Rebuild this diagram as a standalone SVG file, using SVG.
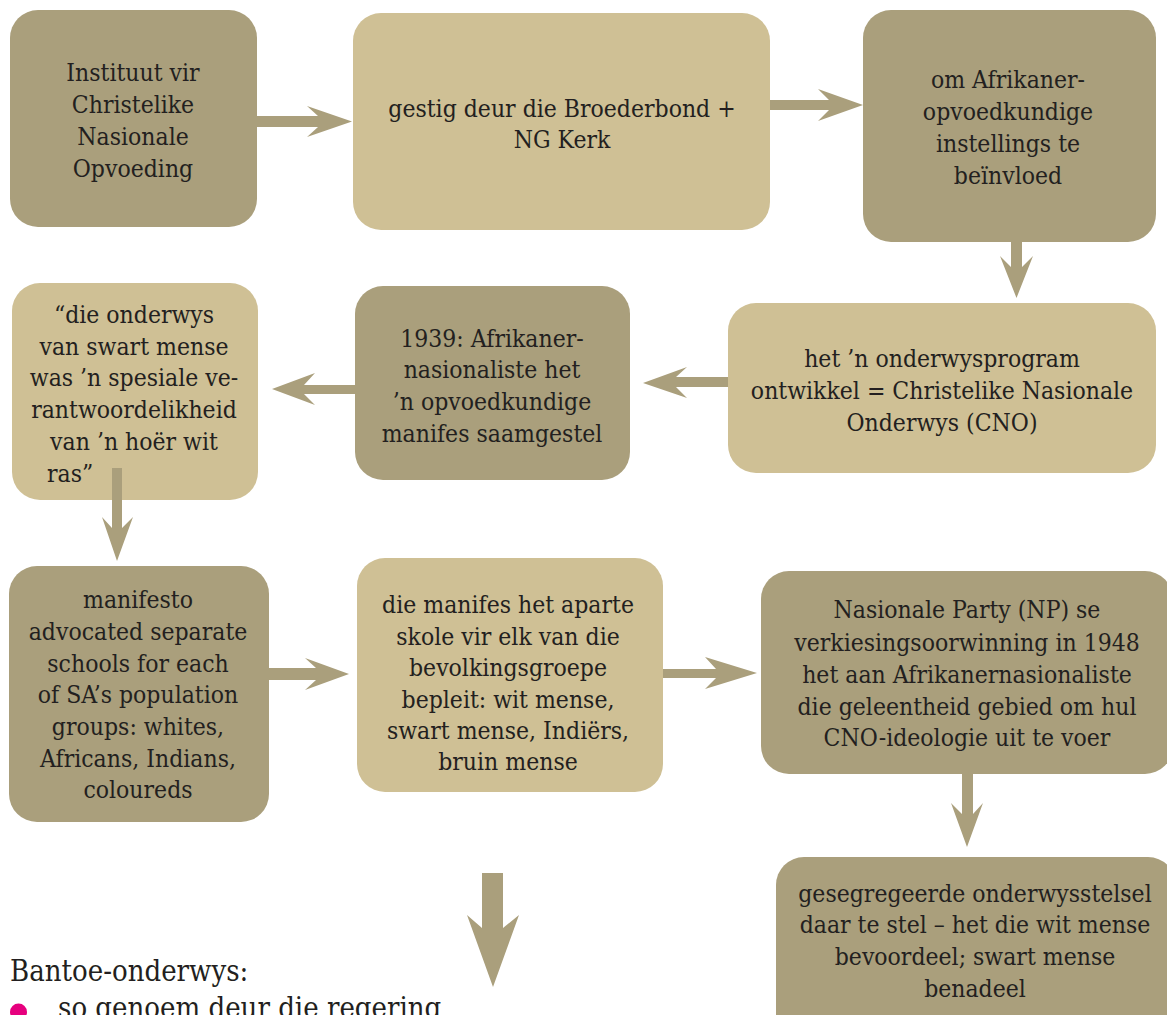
<svg xmlns="http://www.w3.org/2000/svg" width="1167" height="1015" viewBox="0 0 1167 1015">
<style>
.dk{fill:#aa9f7c}
.lt{fill:#cfc095}
.t{font-family:"DejaVu Serif Condensed","DejaVu Serif",serif;font-size:24.5px;fill:#231f20;text-anchor:middle}
.b{font-family:"DejaVu Serif Condensed","DejaVu Serif",serif;font-size:29px;fill:#231f20}
.ar{fill:#aa9f7c}
</style>
<rect width="1167" height="1015" fill="#ffffff"/>
<g id="n1"><rect class="dk" x="10" y="10" width="247" height="217" rx="28"/>
<text class="t"><tspan x="133" y="81">Instituut vir</tspan><tspan x="133" y="113">Christelike</tspan><tspan x="133" y="145">Nasionale</tspan><tspan x="133" y="177">Opvoeding</tspan></text></g>
<g id="n2"><rect class="lt" x="353" y="13" width="417" height="217" rx="28"/>
<text class="t"><tspan x="562" y="117">gestig deur die Broederbond +</tspan><tspan x="562" y="148">NG Kerk</tspan></text></g>
<g id="n3"><rect class="dk" x="863" y="10" width="293" height="232" rx="28"/>
<text class="t"><tspan x="1008" y="88">om Afrikaner-</tspan><tspan x="1008" y="120">opvoedkundige</tspan><tspan x="1008" y="152">instellings te</tspan><tspan x="1008" y="184">beïnvloed</tspan></text></g>
<g id="n4"><rect class="lt" x="728" y="303" width="428" height="170" rx="28"/>
<text class="t"><tspan x="942" y="367">het ’n onderwysprogram</tspan><tspan x="942" y="399">ontwikkel = Christelike Nasionale</tspan><tspan x="942" y="431">Onderwys (CNO)</tspan></text></g>
<g id="n5"><rect class="dk" x="355" y="286" width="275" height="194" rx="28"/>
<text class="t"><tspan x="492" y="347">1939: Afrikaner-</tspan><tspan x="492" y="378">nasionaliste het</tspan><tspan x="492" y="410">’n opvoedkundige</tspan><tspan x="492" y="442">manifes saamgestel</tspan></text></g>
<g id="n6"><rect class="lt" x="12" y="283" width="246" height="217" rx="28"/>
<text class="t"><tspan x="134" y="323">“die onderwys</tspan><tspan x="134" y="355">van swart mense</tspan><tspan x="134" y="386">was ’n spesiale ve-</tspan><tspan x="134" y="418">rantwoordelikheid</tspan><tspan x="134" y="450">van ’n hoër wit</tspan></text>
<text class="t" x="47" y="482" style="text-anchor:start">ras”</text></g>
<g id="n7"><rect class="dk" x="9" y="566" width="260" height="256" rx="28"/>
<text class="t"><tspan x="138" y="608">manifesto</tspan><tspan x="138" y="640">advocated separate</tspan><tspan x="138" y="672">schools for each</tspan><tspan x="138" y="703">of SA’s population</tspan><tspan x="138" y="735">groups: whites,</tspan><tspan x="138" y="767">Africans, Indians,</tspan><tspan x="138" y="798">coloureds</tspan></text></g>
<g id="n8"><rect class="lt" x="357" y="558" width="306" height="234" rx="28"/>
<text class="t"><tspan x="508" y="613">die manifes het aparte</tspan><tspan x="508" y="645">skole vir elk van die</tspan><tspan x="508" y="676">bevolkingsgroepe</tspan><tspan x="508" y="708">bepleit: wit mense,</tspan><tspan x="508" y="739">swart mense, Indiërs,</tspan><tspan x="508" y="770">bruin mense</tspan></text></g>
<g id="n9"><rect class="dk" x="761" y="571" width="412" height="203" rx="28"/>
<text class="t"><tspan x="967" y="618">Nasionale Party (NP) se</tspan><tspan x="967" y="651">verkiesingsoorwinning in 1948</tspan><tspan x="967" y="683">het aan Afrikanernasionaliste</tspan><tspan x="967" y="715">die geleentheid gebied om hul</tspan><tspan x="967" y="746">CNO-ideologie uit te voer</tspan></text></g>
<g id="n10"><rect class="dk" x="776" y="857" width="400" height="190" rx="28"/>
<text class="t"><tspan x="975" y="902">gesegregeerde onderwysstelsel</tspan><tspan x="975" y="933">daar te stel – het die wit mense</tspan><tspan x="975" y="965">bevoordeel; swart mense</tspan><tspan x="975" y="997">benadeel</tspan></text></g>
<g id="connectors">
<path class="ar" d="M257,116 L318,116 L307,106 L352,121.5 L307,137 L318,127 L257,127 Z"/>
<path class="ar" d="M770,100 L829,100 L818,89 L863,105 L818,121 L829,110 L770,110 Z"/>
<path class="ar" d="M1011,242 L1011,267 L1000,256 L1016.5,298 L1033,256 L1022,267 L1022,242 Z"/>
<path class="ar" d="M728,377 L676,377 L687,367 L643,383 L687,398 L676,387 L728,387 Z"/>
<path class="ar" d="M355,385 L304,385 L315,373 L272,389 L315,405 L304,394 L355,394 Z"/>
<path class="ar" d="M112,468 L112,528 L102,517 L117,561 L133,517 L122,528 L122,468 Z"/>
<path class="ar" d="M268,668 L316,668 L305,658 L349,674 L305,690 L316,680 L268,680 Z"/>
<path class="ar" d="M663,669 L716,669 L705,657 L757,673 L705,689 L716,678 L663,678 Z"/>
<path class="ar" d="M962,774 L962,814 L951,803 L967,847 L983,803 L973,814 L973,774 Z"/>
<path class="ar" d="M482,873 L482,928 L467,915 L493,987 L519,915 L503,928 L503,873 Z"/>
</g>
<g id="bottom-text">
<text class="b" x="10" y="981">Bantoe-onderwys:</text>
<circle cx="18.5" cy="1012" r="8.5" fill="#e6007e"/>
<text class="b" x="58" y="1018">so genoem deur die regering</text>
</g>
</svg>
